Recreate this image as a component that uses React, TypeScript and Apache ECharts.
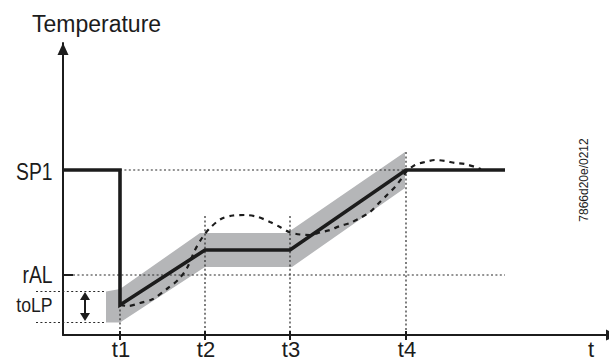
import React, { useEffect, useRef } from 'react';
import * as echarts from 'echarts';

// Axis extents (time units / temperature units)
const xMax = 546;
const yMax = 292;

// Time marks on the x axis
const timeMarks = [57, 142, 227, 343];
const timeLabels = ['t1', 't2', 't3', 't4'];
const timeGuideTop = [30, 119, 119, 183];

// Temperature levels on the y axis
const levelNames = ['SP1', 'rAL', 'toLP'];
const levelValues = [165, 60, 30.5];
const levelFontSizes = [23, 23, 21];
const spValue = 165;
const ralValue = 60;
const toLPBounds = [12.5, 43.5];

// Control set-point profile (thick line)
const controlX = [0, 57, 57, 142, 227, 343, 442];
const controlY = [165, 165, 30, 85, 85, 165, 165];

// Tolerance band
const bandTopX = [43, 57, 137, 224, 342];
const bandTopY = [43.5, 46, 102, 102, 183];
const bandBottomX = [342, 229, 142, 57, 43];
const bandBottomY = [147, 68, 68, 12.5, 12.5];

// Measured temperature (dashed curve)
const probeX = [57, 65, 77, 90, 105, 115, 124, 132, 139, 147, 158, 170, 182, 195, 207, 217, 226, 237, 247, 257, 267, 277, 287, 297, 307, 315, 324, 332, 339, 344, 352, 362, 372, 382, 392, 402, 412, 418];
const probeY = [30, 29, 32, 36, 47, 55, 67, 85, 97, 107, 116, 119.5, 120, 118, 113, 108, 103, 100.5, 100, 102.5, 105, 109, 112, 117, 123, 131, 140, 148, 157, 164, 170, 173, 175, 174, 172, 171, 168, 166];

const INK = '#1c1c1c';
const FONT = "'Liberation Sans', Arial, Helvetica, sans-serif";

export default function App() {
  const ref = useRef<HTMLDivElement>(null);

  useEffect(() => {
    if (!ref.current) return;
    const chart = echarts.init(ref.current, undefined, { renderer: 'svg' });

    const bandItem = (params: any, api: any) => {
      const pts: number[][] = [];
      bandTopX.forEach((x, i) => pts.push(api.coord([x, bandTopY[i]])));
      bandBottomX.forEach((x, i) => pts.push(api.coord([x, bandBottomY[i]])));
      return {
        type: 'polygon',
        shape: { points: pts },
        style: { fill: '#b5b6b8', stroke: 'none' },
      };
    };

    const guidesItem = (params: any, api: any) => {
      const c = (x: number, y: number) => api.coord([x, y]);
      const children: any[] = [];
      const dotted = { stroke: '#2a2a2a', lineWidth: 1.2, lineDash: [2, 2.4], fill: 'none' };
      const solid = { stroke: INK, lineWidth: 2, fill: 'none' };
      const seg = (a: number[], b: number[], style: any) =>
        children.push({ type: 'line', shape: { x1: a[0], y1: a[1], x2: b[0], y2: b[1] }, style });

      // horizontal guides
      seg(c(timeMarks[0], spValue), c(timeMarks[3], spValue), dotted);
      seg(c(10, ralValue), c(controlX[controlX.length - 1], ralValue), dotted);
      seg(c(0, ralValue), c(10, ralValue), solid);
      seg(c(-27, toLPBounds[1]), c(bandTopX[0], toLPBounds[1]), dotted);
      seg(c(-27, toLPBounds[0]), c(bandTopX[0], toLPBounds[0]), dotted);

      // vertical guides + ticks + labels
      timeMarks.forEach((t, i) => {
        seg(c(t, timeGuideTop[i]), c(t, 0), dotted);
        const p0 = c(t, 0);
        seg([p0[0], p0[1] - 4], [p0[0], p0[1] + 5], solid);
        children.push({
          type: 'text',
          x: p0[0] + 1,
          y: p0[1] + 14,
          style: { text: timeLabels[i], fontSize: 22, lineHeight: 18, fontFamily: FONT, fill: INK, align: 'center', verticalAlign: 'middle' },
        });
      });

      // level labels
      levelNames.forEach((name, i) => {
        const p = c(0, levelValues[i]);
        children.push({
          type: 'text',
          x: p[0] - 10.5,
          y: p[1] + (i === 0 ? 1.5 : 0),
          scaleX: 0.84,
          style: { text: name, fontSize: levelFontSizes[i], fontFamily: FONT, fill: INK, align: 'right', verticalAlign: 'middle' },
        });
      });

      // toLP double arrow
      const top = c(22, toLPBounds[1]);
      const bot = c(22, toLPBounds[0]);
      const ax = top[0];
      const tTip = top[1] + 0.5;
      const bTip = bot[1] - 1.5;
      seg([ax, tTip + 6], [ax, bTip - 6], { stroke: INK, lineWidth: 2 });
      children.push({ type: 'polygon', shape: { points: [[ax, tTip], [ax - 5, tTip + 8], [ax + 5, tTip + 8]] }, style: { fill: INK } });
      children.push({ type: 'polygon', shape: { points: [[ax, bTip], [ax - 5, bTip - 8], [ax + 5, bTip - 8]] }, style: { fill: INK } });

      return { type: 'group', children };
    };

    chart.setOption({
      animation: false,
      backgroundColor: '#ffffff',
      grid: { left: 63, right: 0, top: 43, bottom: 26, containLabel: false },
      xAxis: {
        type: 'value',
        min: 0,
        max: xMax,
        axisLine: {
          show: true,
          onZero: false,
          symbol: ['none', 'triangle'],
          symbolSize: [11, 12],
          symbolOffset: [0, 3],
          lineStyle: { color: INK, width: 2 },
        },
        axisTick: { show: false },
        axisLabel: { show: false },
        splitLine: { show: false },
      },
      yAxis: {
        type: 'value',
        min: 0,
        max: yMax,
        axisLine: {
          show: true,
          onZero: false,
          symbol: ['none', 'triangle'],
          symbolSize: [11, 12],
          symbolOffset: [0, -6],
          lineStyle: { color: INK, width: 2 },
        },
        axisTick: { show: false },
        axisLabel: { show: false },
        splitLine: { show: false },
      },
      graphic: [
        {
          type: 'text',
          x: 32,
          y: 24,
          style: { text: 'Temperature', fontSize: 23, fontFamily: FONT, fill: INK, align: 'left', verticalAlign: 'middle' },
        },
        {
          type: 'text',
          x: 591,
          y: 349,
          style: { text: 't', fontSize: 22, lineHeight: 18, fontFamily: FONT, fill: INK, align: 'center', verticalAlign: 'middle' },
        },
        {
          type: 'text',
          x: 584,
          y: 180,
          rotation: Math.PI / 2,
          style: { text: '7866d20e/0212', fontSize: 12, fontFamily: FONT, fill: INK, align: 'center', verticalAlign: 'middle' },
        },
      ],
      series: [
        {
          type: 'custom',
          name: 'band',
          z: 1,
          clip: false,
          silent: true,
          data: [[0, 0]],
          renderItem: bandItem,
        },
        {
          type: 'custom',
          name: 'guides',
          z: 2,
          clip: false,
          silent: true,
          data: [[0, 0]],
          renderItem: guidesItem,
        },
        {
          type: 'line',
          name: 'control',
          z: 3,
          data: controlX.map((x, i) => [x, controlY[i]]),
          showSymbol: false,
          lineStyle: { color: INK, width: 3.6, join: 'miter' },
        },
        {
          type: 'line',
          name: 'probe',
          z: 4,
          smooth: 0.3,
          data: probeX.map((x, i) => [x, probeY[i]]),
          showSymbol: false,
          lineStyle: { color: INK, width: 2.2, type: [5, 5] },
        },
      ],
    });

    return () => chart.dispose();
  }, []);

  return (
    <div
      ref={ref}
      style={{ position: 'fixed', left: 0, top: 0, width: 609, height: 361, background: '#fff' }}
    />
  );
}
